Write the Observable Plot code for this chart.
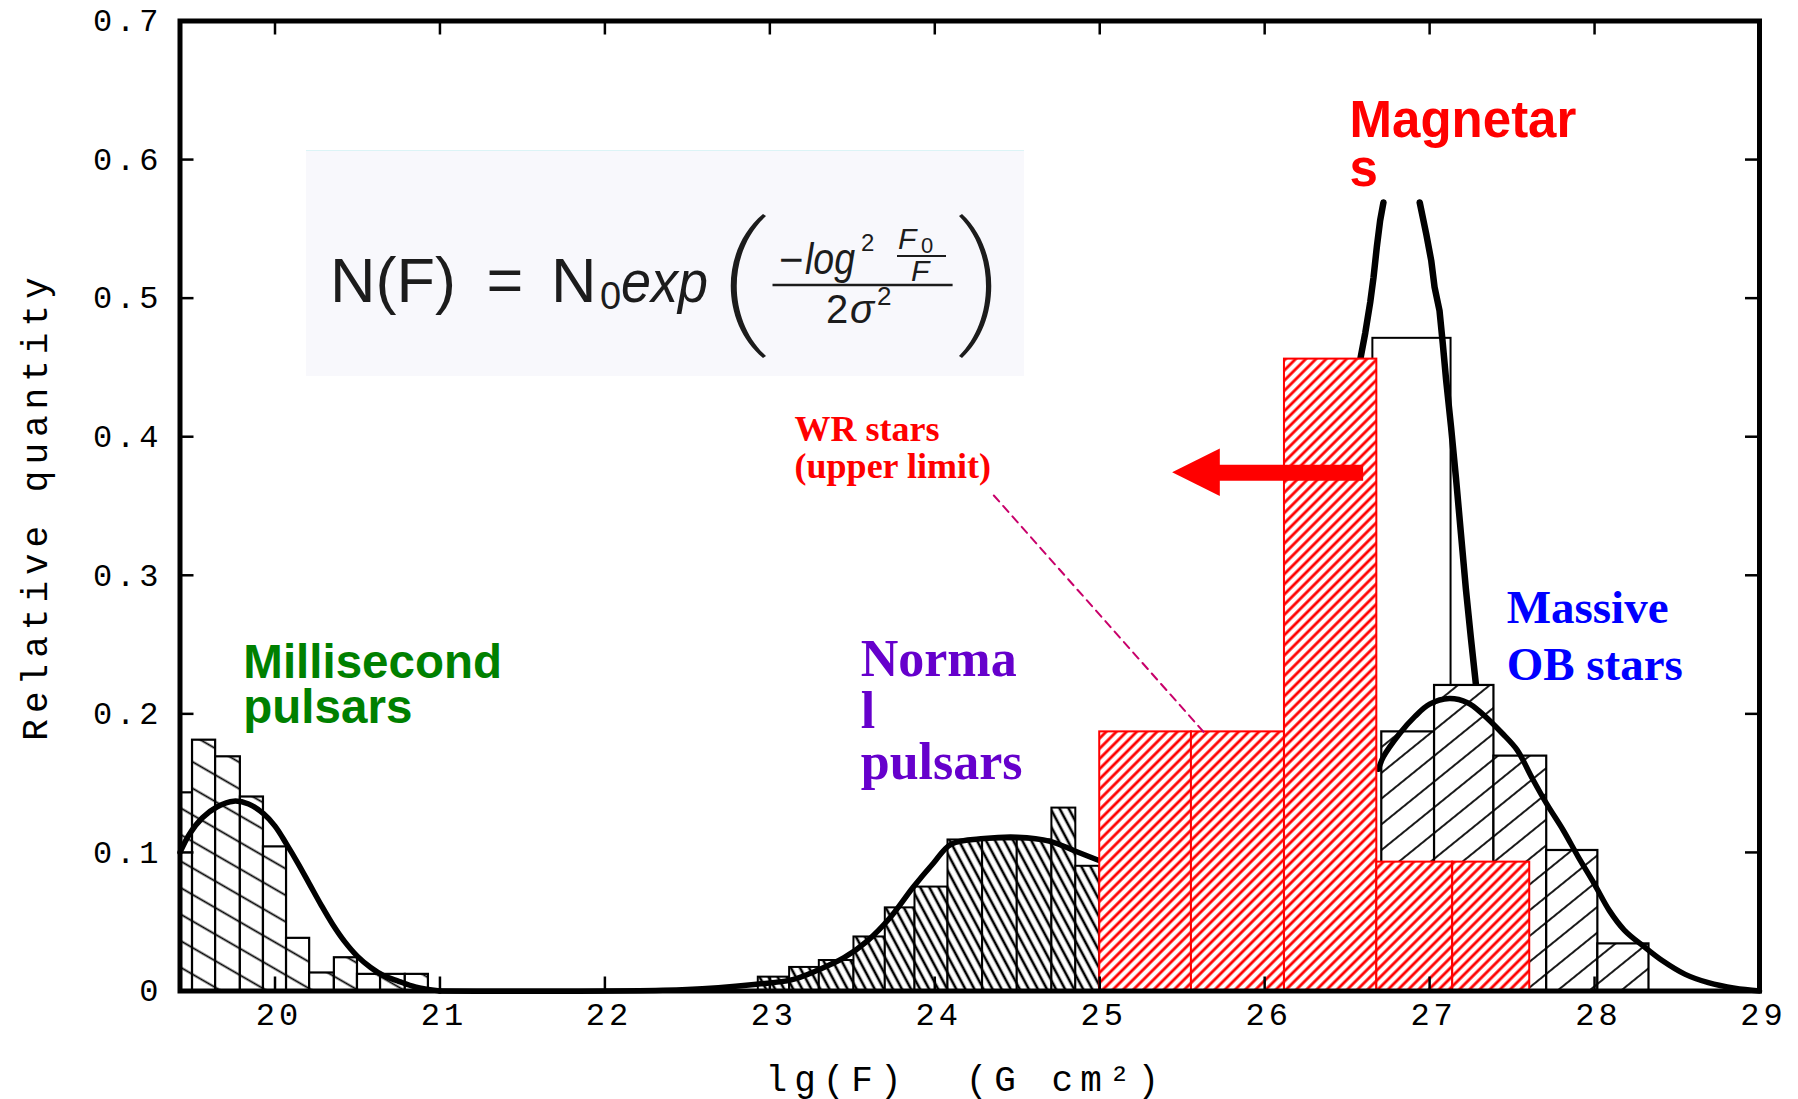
<!DOCTYPE html>
<html>
<head>
<meta charset="utf-8">
<script src="https://cdn.jsdelivr.net/npm/d3@7"></script>
<script src="https://cdn.jsdelivr.net/npm/@observablehq/plot@0.6"></script>
<style>
html, body { margin: 0; padding: 0; background: #fff; overflow: hidden; }
#chart { width: 1798px; height: 1099px; }
#chart svg { display: block; }
</style>
</head>
<body>
<div id="chart"></div>
<script>
// ---------------- data ----------------
const xTicks = [20, 21, 22, 23, 24, 25, 26, 27, 28, 29];
const xTickLabels = ["20", "21", "22", "23", "24", "25", "26", "27", "28", "29"];
const yTicks = [0, 0.1, 0.2, 0.3, 0.4, 0.5, 0.6, 0.7];
const yTickLabels = ["0", "0.1", "0.2", "0.3", "0.4", "0.5", "0.6", "0.7"];

// Millisecond pulsars histogram (first bin is cut by the axis)
const msBinEdges = [19.424, 19.50, 19.64, 19.79, 19.93, 20.07, 20.21, 20.36, 20.50, 20.64, 20.79, 20.93];
const msValues   = [0.143, 0.181, 0.169, 0.140, 0.104, 0.038, 0.013, 0.024, 0.012, 0.012, 0.012];

// Normal pulsars histogram
const npBinEdges = [22.93, 23.12, 23.30, 23.51, 23.70, 23.88, 24.08, 24.29, 24.50, 24.71, 24.855, 25.0];
const npValues   = [0.010, 0.017, 0.022, 0.039, 0.060, 0.075, 0.109, 0.109, 0.109, 0.132, 0.090];

// Magnetars histogram
const mgBinEdges = [26.656, 27.13];
const mgValues   = [0.471];

// Massive OB stars histogram
const obBinEdges = [26.71, 27.03, 27.39, 27.71, 28.02, 28.33];
const obValues   = [0.187, 0.2205, 0.1695, 0.1014, 0.034];

// WR stars (upper limit) histogram
const wrBinEdges = [25.0, 25.556, 26.12, 26.68, 27.14, 27.607];
const wrValues   = [0.187, 0.187, 0.456, 0.093, 0.093];

// Fitted curves
const msFitX = [19.424, 19.48, 19.56, 19.65, 19.75, 19.84, 19.93, 20.00, 20.07, 20.14, 20.21, 20.28, 20.35, 20.42, 20.50, 20.58, 20.66, 20.75, 20.85, 21.00];
const msFitY = [0.100, 0.113, 0.125, 0.133, 0.137, 0.135, 0.128, 0.119, 0.106, 0.092, 0.077, 0.062, 0.048, 0.036, 0.025, 0.017, 0.011, 0.007, 0.003, 0.000];

const npFitX = [21.00, 22.50, 22.93, 23.13, 23.29, 23.45, 23.59, 23.73, 23.87, 23.99, 24.10, 24.30, 24.50, 24.70, 24.85, 25.00];
const npFitY = [0.000, 0.001, 0.005, 0.008, 0.015, 0.024, 0.036, 0.053, 0.075, 0.092, 0.106, 0.110, 0.111, 0.108, 0.101, 0.094];

const mgFitLeftX  = [26.56, 26.58, 26.61, 26.64, 26.66, 26.68, 26.70, 26.72];
const mgFitLeftY  = [0.440, 0.456, 0.475, 0.497, 0.515, 0.537, 0.556, 0.569];
const mgFitRightX = [26.94, 26.98, 27.01, 27.03, 27.06, 27.08, 27.10, 27.13, 27.16, 27.19, 27.22, 27.25, 27.28, 27.31];
const mgFitRightY = [0.569, 0.546, 0.527, 0.508, 0.491, 0.467, 0.441, 0.407, 0.370, 0.330, 0.290, 0.255, 0.222, 0.190];

const obFitX = [26.69, 26.72, 26.82, 26.91, 27.00, 27.12, 27.23, 27.32, 27.44, 27.53, 27.62, 27.71, 27.81, 27.90, 28.00, 28.09, 28.18, 28.30, 28.41, 28.55, 28.69, 28.85, 29.00];
const obFitY = [0.160, 0.169, 0.186, 0.198, 0.207, 0.211, 0.208, 0.200, 0.186, 0.174, 0.154, 0.135, 0.116, 0.097, 0.077, 0.058, 0.044, 0.032, 0.022, 0.012, 0.006, 0.002, 0.000];

// Annotations (data coordinates)
const arrowShaftX = [25.70, 26.597];
const arrowShaftY = [0.374, 0.374];
const arrowHeadX  = [25.442, 25.731];
const arrowHeadY1 = [0.374, 0.3568];
const arrowHeadY2 = [0.374, 0.3912];
const leaderX = [24.358, 25.631];
const leaderY = [0.3576, 0.1868];

const labelTexts  = ["Millisecond\npulsars", "Norma\nl\npulsars", "Magnetar\ns", "Massive\nOB stars", "WR stars\n(upper limit)"];
const labelX      = [19.808, 23.551, 26.515, 27.467, 23.150];
const labelY      = [0.1933, 0.1531, 0.5811, 0.2241, 0.3704];

// ---------------- build tables ----------------
const bins = (edges, vals) => vals.map((v, i) => ({x1: edges[i], x2: edges[i + 1], y: v}));
const pts = (xs, ys, s) => xs.map((x, i) => ({x, y: ys[i], s}));

const msBars = bins(msBinEdges, msValues);
const npBars = bins(npBinEdges, npValues);
const mgBars = bins(mgBinEdges, mgValues);
const obBars = bins(obBinEdges, obValues);
const wrBars = bins(wrBinEdges, wrValues);

const pulsarCurve = [...pts(msFitX, msFitY, "ms"), ...pts(npFitX, npFitY, "np")];
const magCurve = [...pts(mgFitLeftX, mgFitLeftY, "L"), ...pts(mgFitRightX, mgFitRightY, "R")];
const obCurve = pts(obFitX, obFitY, "ob");

const labels = labelTexts.map((t, i) => ({t, x: labelX[i], y: labelY[i]}));

const X0 = 19.424, X1 = 29, Y0 = 0, Y1 = 0.7;
const mL = 179.5, mR = 39, mT = 20.5, mB = 108.5, W = 1798, H = 1099;
const pxX = (X1 - X0) / (W - mL - mR);   // data units per pixel
const pxY = (Y1 - Y0) / (H - mT - mB);
const tickLen = 14;
const MONO = "Liberation Mono, DejaVu Sans Mono, monospace";

const barStyle = {x1: "x1", x2: "x2", y1: 0, y2: "y"};
const labelMark = (i, font, weight, size, color, lh) => Plot.text([labels[i]], {
  x: "x", y: "y", text: "t", textAnchor: "start", lineAnchor: "bottom",
  fontFamily: font, fontWeight: weight, fontSize: size, fill: color, lineHeight: lh
});

const plot = Plot.plot({
  width: W, height: H,
  marginLeft: mL, marginRight: mR, marginTop: mT, marginBottom: mB,
  x: {domain: [X0, X1], axis: null},
  y: {domain: [Y0, Y1], axis: null},
  style: {background: "white", overflow: "visible"},
  marks: [
    // magnetar box and fit
    Plot.rect(mgBars, {...barStyle, fill: "white", stroke: "black", strokeWidth: 2}),
    Plot.line(magCurve, {x: "x", y: "y", z: "s", stroke: "black", strokeWidth: 6.5}),
    // millisecond pulsars
    Plot.rect(msBars, {...barStyle, fill: "url(#hatchMS)", stroke: "black", strokeWidth: 2.2}),
    // normal pulsars
    Plot.rect(npBars, {...barStyle, fill: "url(#hatchNP)", stroke: "black", strokeWidth: 2}),
    Plot.line(pulsarCurve, {x: "x", y: "y", z: "s", stroke: "black", strokeWidth: 5.5, curve: "catmull-rom"}),
    // OB stars
    Plot.rect(obBars, {...barStyle, fill: "url(#hatchOB)", stroke: "black", strokeWidth: 2.2}),
    Plot.line(obCurve, {x: "x", y: "y", stroke: "black", strokeWidth: 5.5, curve: "catmull-rom"}),
    // WR stars
    Plot.rect(wrBars, {...barStyle, fill: "url(#hatchWR)", stroke: "#ff0000", strokeWidth: 2}),
    // red arrow
    Plot.line(arrowShaftX.map((x, i) => ({x, y: arrowShaftY[i]})), {x: "x", y: "y", stroke: "#ff0000", strokeWidth: 16, strokeLinecap: "butt"}),
    Plot.areaY(arrowHeadX.map((x, i) => ({x, y1: arrowHeadY1[i], y2: arrowHeadY2[i]})), {x: "x", y1: "y1", y2: "y2", fill: "#ff0000"}),
    // leader line
    Plot.line(leaderX.map((x, i) => ({x, y: leaderY[i]})), {x: "x", y: "y", stroke: "#c8006a", strokeWidth: 2, strokeDasharray: "8,6"}),
    // frame and ticks
    Plot.frame({stroke: "black", strokeWidth: 5}),
    Plot.ruleX(xTicks, {x: d => d, y1: Y0, y2: Y0 + tickLen * pxY, stroke: "black", strokeWidth: 2.5}),
    Plot.ruleX(xTicks, {x: d => d, y1: Y1, y2: Y1 - tickLen * pxY, stroke: "black", strokeWidth: 2.5}),
    Plot.ruleY(yTicks, {y: d => d, x1: X0, x2: X0 + tickLen * pxX, stroke: "black", strokeWidth: 2.5}),
    Plot.ruleY(yTicks, {y: d => d, x1: X1, x2: X1 - tickLen * pxX, stroke: "black", strokeWidth: 2.5}),
    // tick labels
    Plot.text(xTicks, {x: d => d, text: (d, i) => xTickLabels[i], frameAnchor: "bottom", dy: 33.5, dx: 4,
      fontFamily: MONO, fontSize: 32, fill: "black", ariaDescription: "xticklabels"}),
    Plot.text(yTicks, {y: d => d, text: (d, i) => yTickLabels[i], frameAnchor: "left", textAnchor: "end", dx: -17.5,
      fontFamily: MONO, fontSize: 32, fill: "black", ariaDescription: "yticklabels"}),
    // axis titles
    Plot.text(["lg(F)  (G cm\u00b2)"], {text: d => d, frameAnchor: "bottom", textAnchor: "middle", dy: 99.5, dx: -4, lineAnchor: "bottom",
      fontFamily: MONO, fontSize: 36, fill: "black", ariaDescription: "xtitle"}),
    Plot.text(["Relative quantity"], {text: d => d, frameAnchor: "left", textAnchor: "middle", dx: -133, rotate: -90, lineAnchor: "bottom",
      fontFamily: MONO, fontSize: 36, fill: "black", ariaDescription: "ytitle"}),
    // annotations
    labelMark(0, "Liberation Sans, Arial, sans-serif", "bold", 47.5, "#008000", 0.956),
    labelMark(1, "Liberation Serif, Times New Roman, serif", "bold", 52, "#6600cc", 0.985),
    labelMark(2, "Liberation Sans, Arial, sans-serif", "bold", 51, "#ff0000", 0.95),
    labelMark(3, "Liberation Serif, Times New Roman, serif", "bold", 47, "#0000ff", 1.22),
    labelMark(4, "Liberation Serif, Times New Roman, serif", "bold", 36, "#ff0000", 1.01)
  ]
});

// ---------------- text spacing (style) ----------------
const svg = d3.select(plot);
const spacing = {xticklabels: "4px", yticklabels: "4px", xtitle: "7px", ytitle: "6px"};
svg.selectAll("[aria-description]").each(function () {
  const k = this.getAttribute("aria-description");
  if (spacing[k]) {
    this.style.letterSpacing = spacing[k];
    this.style.whiteSpace = "pre";
    d3.select(this).selectAll("text").style("letter-spacing", spacing[k]).style("white-space", "pre");
  }
});

// ---------------- hatch patterns ----------------
const defs = svg.insert("defs", ":first-child");
function hatch(id, size, angle, color, width) {
  const p = defs.append("pattern").attr("id", id).attr("patternUnits", "userSpaceOnUse")
    .attr("width", size).attr("height", size).attr("patternTransform", `rotate(${angle})`);
  p.append("rect").attr("width", size).attr("height", size).attr("fill", "white");
  p.append("line").attr("x1", 0).attr("x2", size).attr("y1", size / 2).attr("y2", size / 2)
    .attr("stroke", color).attr("stroke-width", width);
}
hatch("hatchMS", 23, 30, "black", 1.8);
hatch("hatchOB", 20, -39, "black", 1.8);
hatch("hatchNP", 8, 62, "black", 2.6);
hatch("hatchWR", 7.2, -45, "#ff0000", 2.8);

// ---------------- formula inset ----------------
const f = svg.append("g").attr("font-family", "Liberation Sans, Arial, sans-serif")
  .attr("fill", "#1c1c1c").attr("text-anchor", "start");
f.append("rect").attr("x", 306).attr("y", 150).attr("width", 718).attr("height", 226).attr("fill", "#f8f8fc");
f.append("line").attr("x1", 306).attr("x2", 1024).attr("y1", 150.5).attr("y2", 150.5).attr("stroke", "#dcf4f6").attr("stroke-width", 1);
function T(x, y, s, size, extra = {}) {
  const e = f.append("text").attr("x", x).attr("y", y).attr("font-size", size).attr("text-anchor", "start").text(s);
  for (const k in extra) e.attr(k, extra[k]);
  return e;
}
T(330, 302, "N(F)", 63);
T(505, 302, "=", 63, {"text-anchor": "middle"});
T(551, 302, "N", 63);
T(600, 309, "0", 38);
T(621, 302, "exp", 60, {"font-style": "italic", "textLength": 87, "lengthAdjust": "spacingAndGlyphs"});
f.append("path").attr("d", "M763,214 C720,250 720,322 763,358 L766,356 C727,320 727,252 766,216 Z");
f.append("path").attr("d", "M962,214 C1001,250 1001,322 962,358 L959,356 C995,320 995,252 959,216 Z");
f.append("line").attr("x1", 772.5).attr("x2", 952.6).attr("y1", 285).attr("y2", 285).attr("stroke", "#1c1c1c").attr("stroke-width", 2.5);
T(779, 274, "\u2212", 42);
T(805, 274, "log", 44, {"font-style": "italic", "textLength": 50, "lengthAdjust": "spacingAndGlyphs"});
T(861, 251, "2", 24);
T(898, 249, "F", 30, {"font-style": "italic"});
T(921, 253, "0", 22);
f.append("line").attr("x1", 897).attr("x2", 946).attr("y1", 256).attr("y2", 256).attr("stroke", "#1c1c1c").attr("stroke-width", 2);
T(911, 281, "F", 30, {"font-style": "italic"});
T(826, 323, "2", 40);
T(850, 323, "\u03c3", 40, {"font-style": "italic"});
T(877, 305, "2", 26);

document.getElementById("chart").appendChild(plot);
</script>
</body>
</html>
